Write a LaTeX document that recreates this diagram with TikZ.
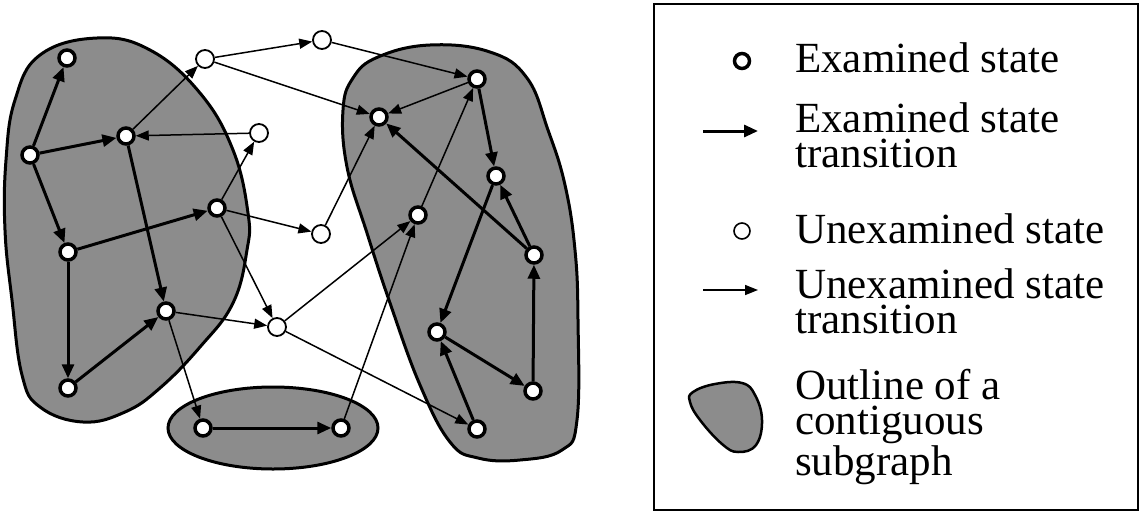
\documentclass[tikz,border=0pt]{standalone}
\usepackage{fontspec}
\setmainfont{Liberation Serif}
\usetikzlibrary{arrows.meta}
\definecolor{blobgray}{gray}{0.55}
\begin{document}
\begin{tikzpicture}[x=1pt,y=-1pt,
  exam/.style={circle,draw,line width=3.5pt,fill=white,minimum size=16pt,inner sep=0pt},
  unex/.style={circle,draw,line width=1.8pt,fill=white,minimum size=18pt,inner sep=0pt},
  ex/.style={line width=3pt,-{Triangle[length=14pt,width=12pt]}},
  ux/.style={line width=1.5pt,-{Triangle[length=13pt,width=10pt]}},
  blob/.style={fill=blobgray,draw=black,line width=3pt},
  lbl/.style={anchor=base west,inner sep=0pt,align=left,font=\fontsize{43}{35}\selectfont}
]
\useasboundingbox (0,0) rectangle (1142,512);
\fill[white] (0,0) rectangle (1142,512);
% subgraph outlines
\draw[blob] plot[smooth cycle,tension=0.7] coordinates {(97,38) (150,50) (200,93) (233,150) (248,213) (247,250) (233,303) (200,347) (160,388) (125,412) (83,422) (40,407) (22,375) (12,300) (5,230) (6,160) (15,100) (40,55)};
\draw[blob] plot[smooth cycle,tension=0.7] coordinates {(343,110) (353,78) (378,57) (430,45) (490,52) (527,78) (548,130) (565,185) (575,250) (578,320) (577,420) (562,450) (520,460) (478,458) (450,442) (420,385) (390,303) (367,233) (347,167)};
\draw[blob] (273,428) ellipse [x radius=105pt, y radius=41pt];
% states
\node[exam] (A) at (67,58) {};
\node[exam] (B) at (30,155) {};
\node[exam] (C) at (126,136) {};
\node[exam] (D) at (217,208) {};
\node[exam] (E) at (68,252) {};
\node[exam] (F) at (166,311) {};
\node[exam] (G) at (68,388) {};
\node[exam] (H) at (379,117) {};
\node[exam] (I) at (418,215) {};
\node[exam] (J) at (203,428) {};
\node[exam] (K) at (341,428) {};
\node[exam] (L) at (477,79) {};
\node[exam] (M) at (496,176) {};
\node[exam] (N) at (534,255) {};
\node[exam] (O) at (437,332) {};
\node[exam] (P) at (533,391) {};
\node[exam] (Q) at (477,429) {};
\node[unex] (U1) at (205,59) {};
\node[unex] (U2) at (322,40) {};
\node[unex] (U3) at (259,133) {};
\node[unex] (U4) at (321,234) {};
\node[unex] (U5) at (277,327) {};
% examined transitions
\draw[ex] (B) -- (A);
\draw[ex] (B) -- (C);
\draw[ex] (B) -- (E);
\draw[ex] (E) -- (D);
\draw[ex] (C) -- (F);
\draw[ex] (E) -- (G);
\draw[ex] (G) -- (F);
\draw[ex] (J) -- (K);
\draw[ex] (L) -- (M);
\draw[ex] (N) -- (H);
\draw[ex] (N) -- (M);
\draw[ex] (M) -- (O);
\draw[ex] (O) -- (P);
\draw[ex] (P) -- (N);
\draw[ex] (Q) -- (O);
% unexamined transitions
\draw[ux] (C) -- (U1);
\draw[ux] (U1) -- (U2);
\draw[ux] (U1) -- (H);
\draw[ux] (U2) -- (L);
\draw[ux] (U3) -- (C);
\draw[ux] (D) -- (U3);
\draw[ux] (D) -- (U4);
\draw[ux] (D) -- (U5);
\draw[ux] (F) -- (U5);
\draw[ux] (F) -- (J);
\draw[ux] (U4) -- (H);
\draw[ux] (U5) -- (I);
\draw[ux] (U5) -- (Q);
\draw[ux] (K) -- (I);
\draw[ux] (I) -- (L);
\draw[ux] (L) -- (H);
% legend
\draw[line width=2pt] (654,4) rectangle (1138,510);
\node[exam,minimum size=15pt,line width=3.5pt] (lc1) at (742,61) {};
\coordinate (la1) at (703,131);
\coordinate (lb1) at (758,131);
\draw[ex] (la1) -- (lb1);
\node[unex,minimum size=16pt,line width=1.6pt] (lc2) at (742,231) {};
\coordinate (la2) at (703,290);
\coordinate (lb2) at (758,290);
\draw[ux] (la2) -- (lb2);
\draw[blob,line width=2.5pt] plot[smooth cycle,tension=0.7] coordinates {(693,392) (715,384) (742,383) (755,395) (762,420) (756,445) (738,452) (722,444) (700,420) (690,402)};
\node[lbl] (t1) at (795,72) {Examined state};
\node[lbl] (t2) at (795,167) {Examined state\\transition};
\node[lbl] (t3) at (795,243) {Unexamined state};
\node[lbl] (t4) at (795,333) {Unexamined state\\transition};
\node[lbl] (t5) at (795,475) {Outline of a\\contiguous\\subgraph};
\end{tikzpicture}
\end{document}
